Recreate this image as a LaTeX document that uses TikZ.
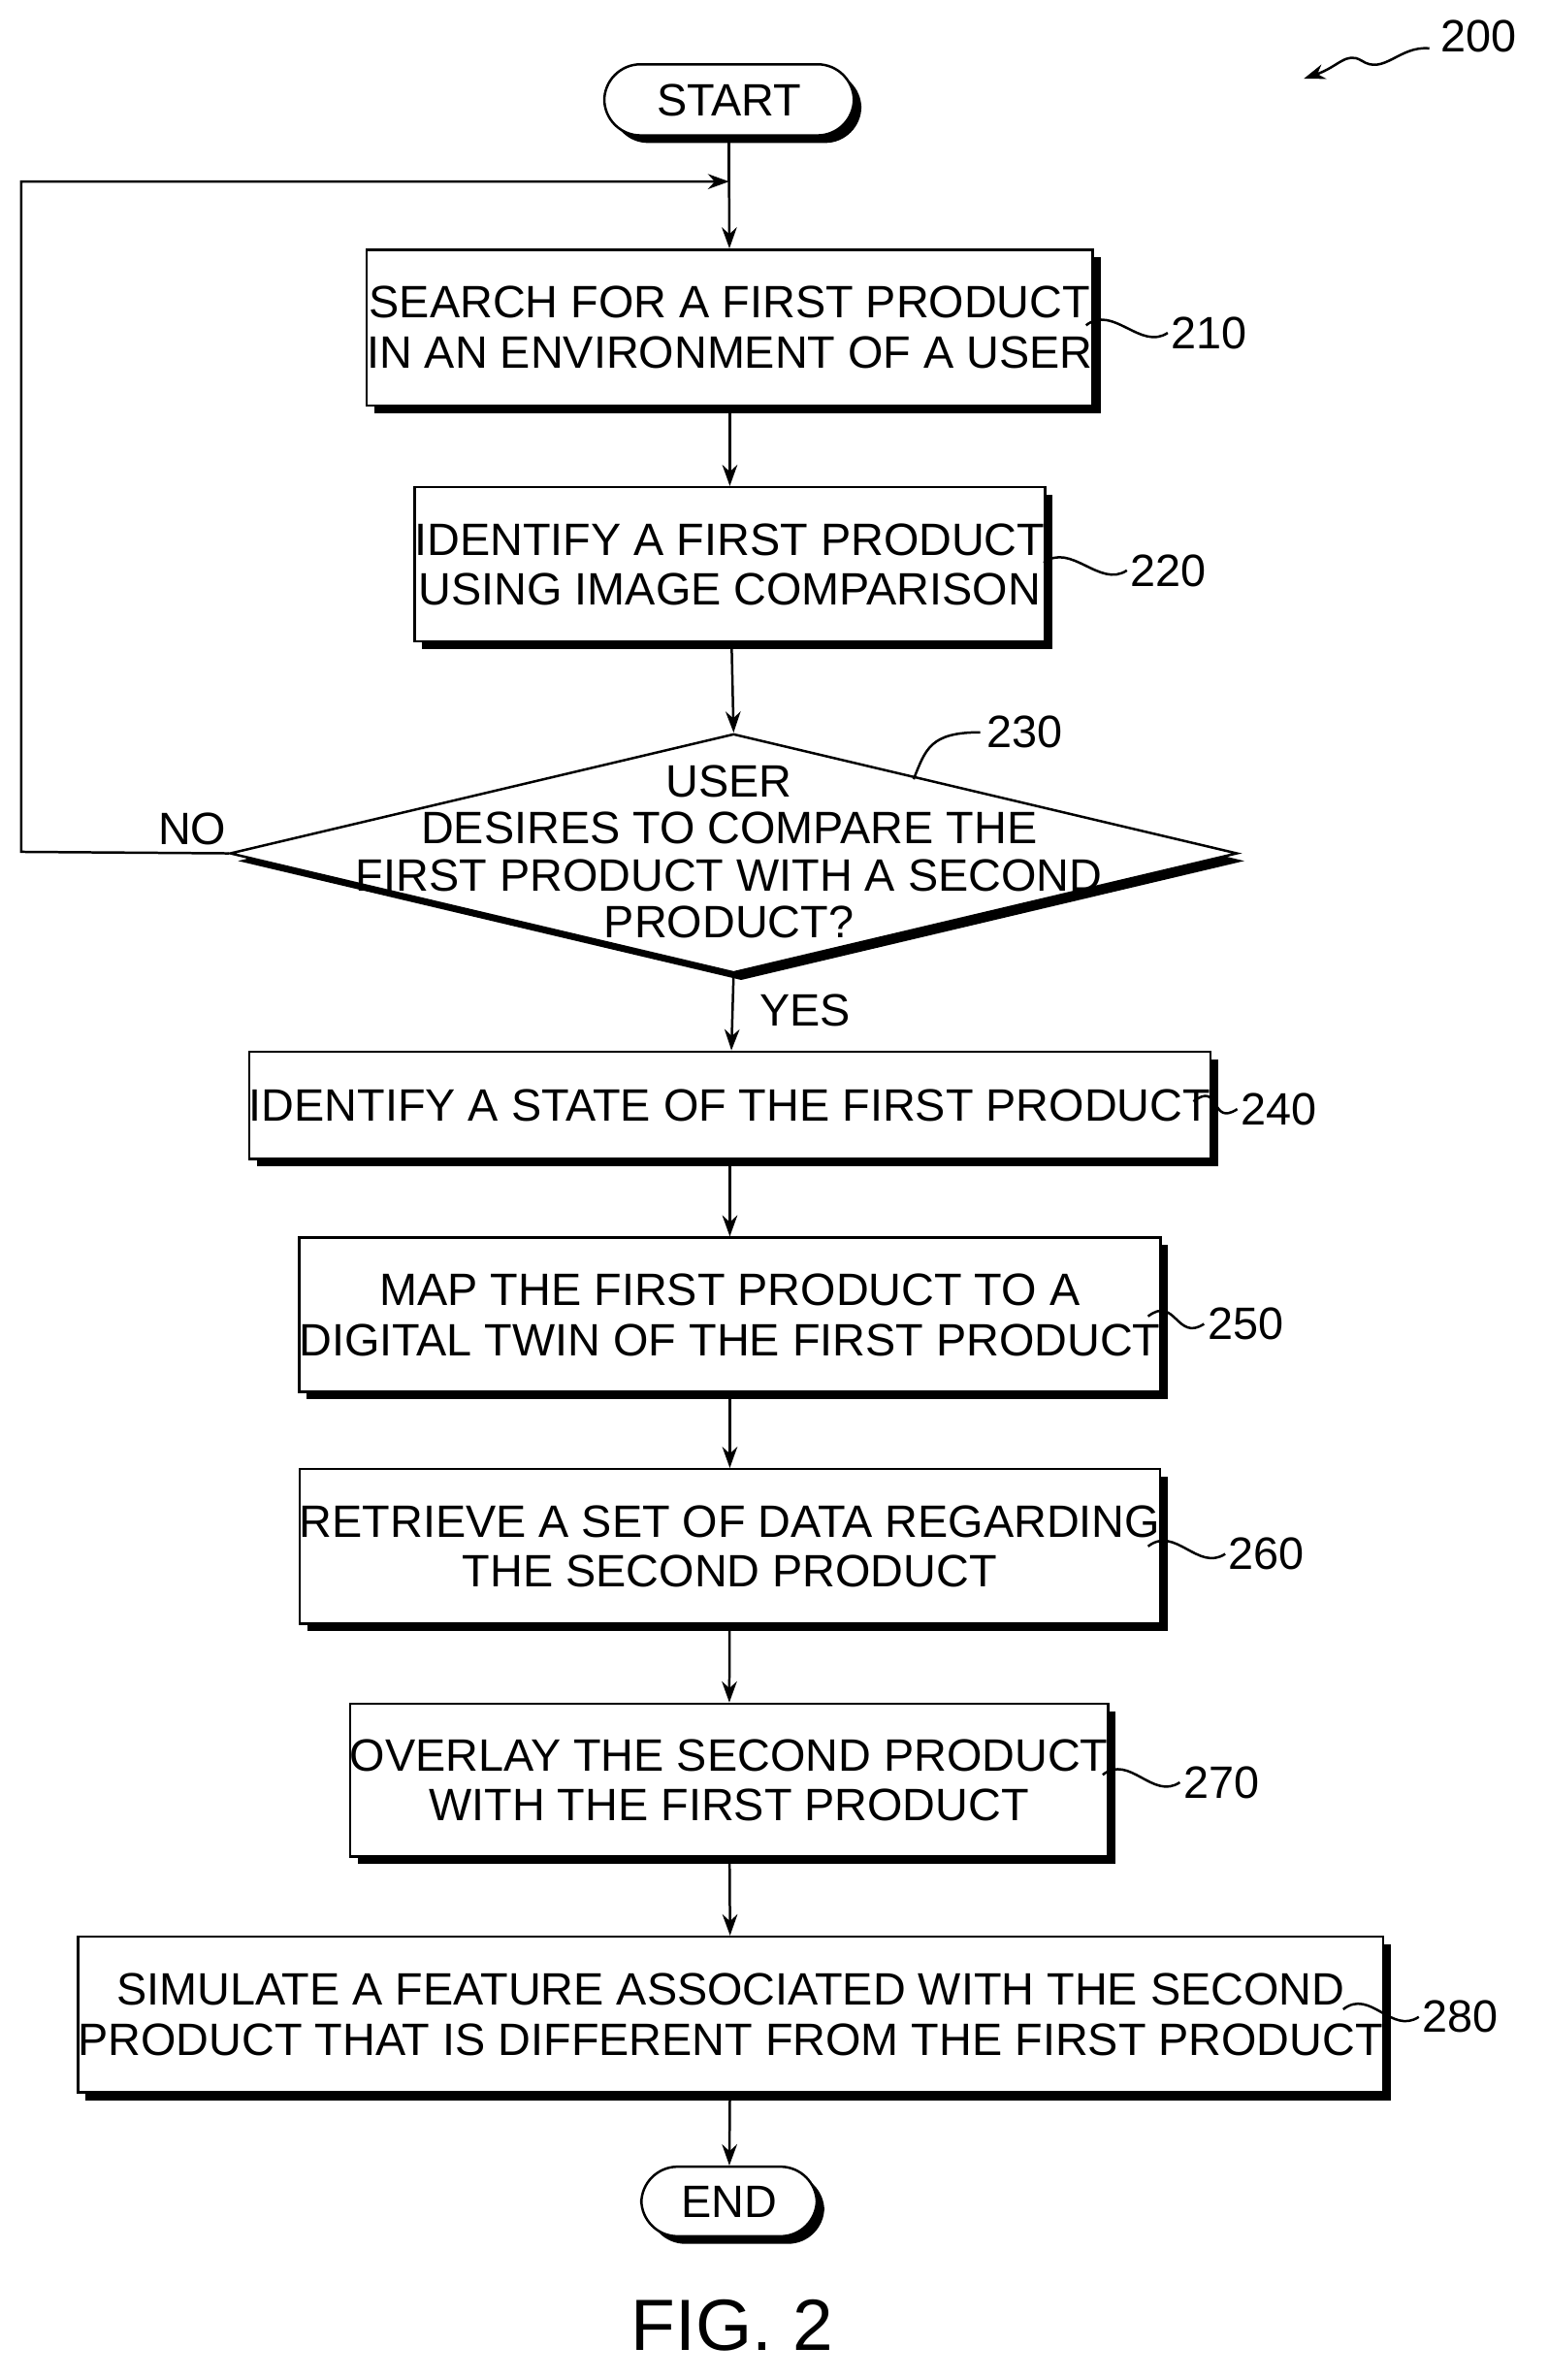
\documentclass[tikz,border=0pt]{standalone}
\usepackage{fontspec}
\setmainfont{Liberation Sans}
\usetikzlibrary{shapes.geometric,shadows,arrows.meta}
\begin{document}
\begin{tikzpicture}[x=0.5pt,y=-0.5pt,
  shd/.style={drop shadow={shadow xshift=2.5pt,shadow yshift=-2.5pt,fill=black,opacity=1}},
  box/.style={draw,line width=0.8pt,fill=white,shd,align=center,inner sep=0pt,font=\fontsize{15}{16.5}\selectfont},
  pill/.style={box,rounded corners=12pt},
  lbl/.style={font=\fontsize{15}{16}\selectfont,anchor=west,inner sep=1pt},
  arr/.style={-{Stealth[length=7pt,width=5pt]},line width=0.8pt},
  lead/.style={line width=0.8pt}]
\useasboundingbox (0,0) rectangle (1024,1573);
\node[pill,minimum width=82.5pt,minimum height=23.5pt] (start) at (482,66) {START};
\node[box,minimum width=233.5pt,minimum height=51.5pt] (b210) at (482.5,216.5) {SEARCH FOR A FIRST PRODUCT\\IN AN ENVIRONMENT OF A USER};
\node[box,minimum width=205.5pt,minimum height=51pt] (b220) at (482.5,373) {IDENTIFY A FIRST PRODUCT\\USING IMAGE COMPARISON};
\node[draw,line width=0.8pt,fill=white,shd,diamond,aspect=4.2,minimum width=333pt,minimum height=79pt,inner sep=0pt] (d230) at (485,564) {};
\node[align=center,font=\fontsize{15}{15.5}\selectfont] (t230) at (482,563) {USER\\DESIRES TO COMPARE THE\\FIRST PRODUCT WITH A SECOND\\PRODUCT?};
\node[box,minimum width=304.5pt,minimum height=35.5pt] (b240) at (482.5,730.5) {IDENTIFY A STATE OF THE FIRST PRODUCT};
\node[box,minimum width=274.5pt,minimum height=51pt] (b250) at (482.5,869) {MAP THE FIRST PRODUCT TO A\\DIGITAL TWIN OF THE FIRST PRODUCT};
\node[box,minimum width=274.5pt,minimum height=51pt] (b260) at (482.5,1022) {RETRIEVE A SET OF DATA REGARDING\\THE SECOND PRODUCT};
\node[box,minimum width=245pt,minimum height=50.5pt] (b270) at (482,1176.5) {OVERLAY THE SECOND PRODUCT\\WITH THE FIRST PRODUCT};
\node[box,minimum width=403pt,minimum height=51.5pt] (b280) at (483,1331.5) {SIMULATE A FEATURE ASSOCIATED WITH THE SECOND\\PRODUCT THAT IS DIFFERENT FROM THE FIRST PRODUCT};
\node[pill,minimum width=58pt,minimum height=23pt] (end) at (482,1455) {END};
\node[font=\fontsize{24}{26}\selectfont] (fig) at (484,1537) {FIG. 2};
% arrows
\coordinate (j) at (482,120);
\draw[line width=0.8pt] (start) -- (j);
\draw[arr] (j) -- (b210);
\draw[arr] (b210) -- (b220);
\draw[arr] (b220) -- (d230.north);
\draw[arr] (d230.south) -- (b240);
\draw[arr] (b240) -- (b250);
\draw[arr] (b250) -- (b260);
\draw[arr] (b260) -- (b270);
\draw[arr] (b270) -- (b280);
\draw[arr] (b280) -- (end);
\coordinate (c1) at (14,563);
\coordinate (c2) at (14,120);
\draw[arr] (d230.west) -- (c1) -- (c2) -- (j);
\node[lbl,anchor=south east] (no) at (152,561) {NO};
\node[lbl] (yes) at (500,668) {YES};
% labels
\foreach \n/\x/\y/\lx in {210/718/215/772, 220/690/372/745, 240/789/728/818, 250/759/870/796, 260/759/1022/810, 270/729/1173/780, 280/888/1328/938}{
  \coordinate (s\n) at (\x,\y);
  \coordinate (e\n) at (\lx,\y+5);
  \draw[lead] (s\n) .. controls +(18,-14) and +(-18,12) .. (e\n);
  \node[lbl] (l\n) at (\lx,\y+5) {\n};
}
\coordinate (s230) at (604,515);
\coordinate (e230) at (648,484);
\draw[lead] (s230) .. controls (612,495) and (615,484) .. (e230);
\node[lbl] (l230) at (650,484) {230};
\node[lbl] (l200) at (950,24) {200};
\coordinate (q1) at (945,32);
\coordinate (q2) at (862,52);
\draw[arr] (q1) .. controls (925,30) and (915,50) .. (900,40) .. controls (890,34) and (885,44) .. (q2);
\end{tikzpicture}
\end{document}
